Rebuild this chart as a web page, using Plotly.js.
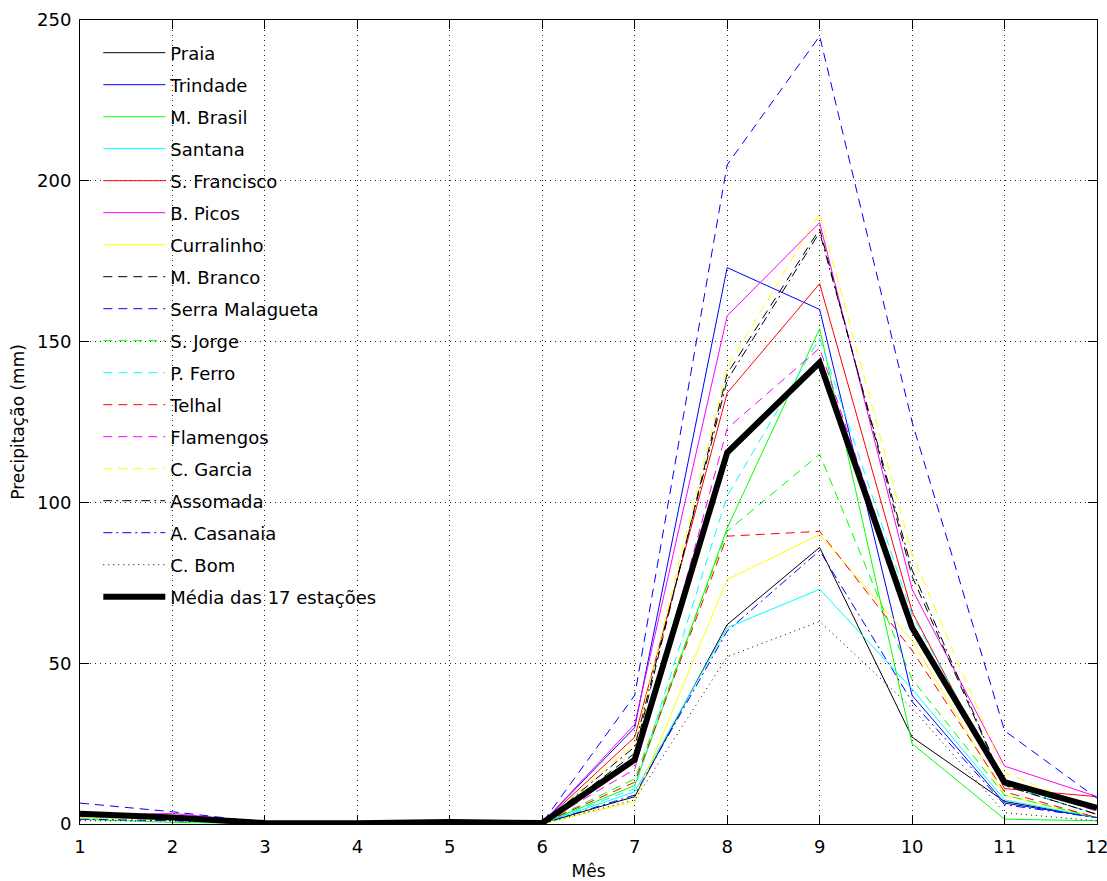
<!DOCTYPE html>
<html>
<head>
<meta charset="utf-8">
<script src="https://cdn.plot.ly/plotly-3.0.1.min.js"></script>
<style>html,body{margin:0;padding:0;background:#fff;}#chart{width:1107px;height:881px;}</style>
</head>
<body>
<div id="chart"></div>
<script>
const months = [1,2,3,4,5,6,7,8,9,10,11,12];
const stationNames = ["Praia","Trindade","M. Brasil","Santana","S. Francisco","B. Picos","Curralinho","M. Branco","Serra Malagueta","S. Jorge","P. Ferro","Telhal","Flamengos","C. Garcia","Assomada","A. Casanaia","C. Bom"];
const praia          = [3.0, 1.5, 0.3, 0.1, 0.2, 0.2,  8.5,  62,  86,  27,  7.0, 2.0];
const trindade       = [2.5, 2.0, 0.3, 0.1, 0.3, 0.3, 30.0, 173, 160,  40,  6.5, 2.0];
const mBrasil        = [1.5, 0.5, 0.1, 0.0, 0.1, 0.1, 12.0,  92, 154,  25,  1.5, 1.0];
const santana        = [2.0, 1.5, 0.2, 0.1, 0.2, 0.2, 10.0,  61,  73,  42,  7.5, 2.0];
const sFrancisco     = [3.0, 2.0, 0.3, 0.1, 0.5, 0.3, 27.0, 134, 168,  66, 11.0, 8.5];
const bPicos         = [2.5, 3.3, 0.5, 0.2, 0.5, 0.3, 31.0, 158, 187,  73, 18.0, 8.5];
const curralinho     = [2.0, 1.5, 0.2, 0.1, 0.2, 0.1,  7.0,  76,  90,  57,  9.0, 2.0];
const mBranco        = [3.0, 2.0, 0.3, 0.1, 0.3, 0.2, 22.0, 140, 185,  77, 12.0, 3.0];
const serraMalagueta = [6.5, 3.8, 0.5, 0.2, 0.6, 0.4, 40.0, 205, 245, 125, 29.0, 8.0];
const sJorge         = [2.5, 1.5, 0.3, 0.1, 0.3, 0.2, 14.0,  91, 115,  45,  9.0, 2.0];
const pFerro         = [2.0, 1.5, 0.2, 0.1, 0.2, 0.2, 11.0, 102, 151,  65, 12.0, 3.0];
const telhal         = [2.5, 2.0, 0.3, 0.1, 0.3, 0.2, 13.0,  89.5, 91, 54, 10.0, 2.0];
const flamengos      = [2.0, 2.5, 0.3, 0.1, 0.3, 0.2, 17.0, 123, 148,  62, 13.0, 4.0];
const cGarcia        = [2.0, 1.5, 0.3, 0.1, 0.3, 0.2, 25.0, 142, 190,  84, 16.0, 4.0];
const assomada       = [3.0, 2.0, 0.3, 0.1, 0.3, 0.2, 24.0, 138, 184,  79, 12.0, 3.0];
const aCasanaia      = [1.5, 1.0, 0.2, 0.1, 0.2, 0.1,  9.0,  60,  85,  38,  6.0, 2.0];
const cBom           = [1.0, 1.0, 0.2, 0.1, 0.2, 0.1,  7.5,  52,  63,  36,  3.5, 1.0];
const media          = [3.2, 2.0, 0.3, 0.2, 0.6, 0.3, 20.0, 115.5, 143.5, 61, 13.0, 5.0];
const meanName = "Média das 17 estações";

const stationValues = [praia,trindade,mBrasil,santana,sFrancisco,bPicos,curralinho,mBranco,serraMalagueta,sJorge,pFerro,telhal,flamengos,cGarcia,assomada,aCasanaia,cBom];
const colors = ["#000000","#0000ff","#00ff00","#00ffff","#ff0000","#ff00ff","#ffff00",
                "#000000","#0000ff","#00ff00","#00ffff","#ff0000","#ff00ff","#ffff00",
                "#000000","#0000ff","#000000"];
const dashes = ["solid","solid","solid","solid","solid","solid","solid",
                "9px,6px","9px,6px","9px,6px","9px,6px","9px,6px","9px,6px","9px,6px",
                "9px,4px,2px,4px","9px,4px,2px,4px","1px,4px"];

const traces = stationValues.map((v,i)=>({
  x: months, y: v, type:"scatter", mode:"lines", name: stationNames[i],
  legendgroup: "g"+i,
  line:{color:colors[i], width:1, dash:dashes[i]}
}));
traces.push({x: months, y: media, type:"scatter", mode:"lines", name: meanName,
  legendgroup:"gm", line:{color:"#000000", width:6}});

const font = "DejaVu Sans, Liberation Sans, Arial, sans-serif";
const layout = {
  width:1107, height:881,
  margin:{l:80, r:10, t:20, b:57},
  paper_bgcolor:"#ffffff", plot_bgcolor:"#ffffff",
  font:{family:font, size:18, color:"#000"},
  showlegend:true,
  legend:{x:0.018, y:1 - 14.5/804, xanchor:"left", yanchor:"top", bgcolor:"rgba(0,0,0,0)",
    borderwidth:0, font:{family:font, size:18, color:"#000"}, itemwidth:62,
    tracegroupgap:5.6},
  xaxis:{range:[1,12], tickmode:"array", tickvals:months, ticks:"inside", ticklen:9,
    showline:true, mirror:"ticks", linecolor:"#000", linewidth:1, tickcolor:"#000",
    showgrid:true, gridcolor:"#222", griddash:"1px,4px", gridwidth:1, zeroline:false,
    ticklabelstandoff:6, ticklabeloverflow:"allow",
    tickfont:{size:18}, title:{text:"Mês", font:{size:17}, standoff:14}},
  yaxis:{range:[0,250], tickmode:"array", tickvals:[0,50,100,150,200,250], ticks:"inside", ticklen:9,
    showline:true, mirror:"ticks", linecolor:"#000", linewidth:1, tickcolor:"#000",
    showgrid:true, gridcolor:"#222", griddash:"1px,4px", gridwidth:1, zeroline:false,
    ticklabelstandoff:4, ticklabeloverflow:"allow",
    tickfont:{size:18}, title:{text:"Precipitação (mm)", font:{size:17}, standoff:8}}
};
Plotly.newPlot("chart", traces, layout, {displayModeBar:false, staticPlot:true});
</script>
</body>
</html>
